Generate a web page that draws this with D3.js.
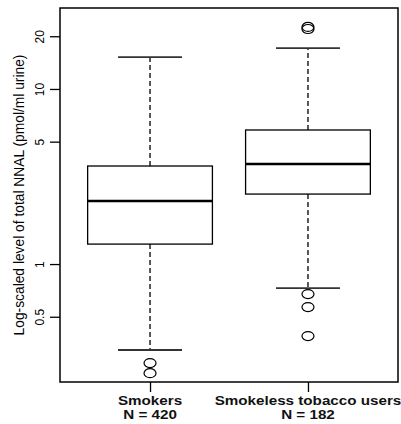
<!DOCTYPE html>
<html>
<head>
<meta charset="utf-8">
<script src="https://cdn.jsdelivr.net/npm/d3@7"></script>
<style>
  body { margin: 0; background: #fff; }
  svg { display: block; font-family: 'Liberation Sans', Arial, sans-serif; }
</style>
</head>
<body>
<div id="chartDiv1"></div>
<script>
// groups and their sample sizes
const groups = ['Smokers', 'Smokeless tobacco users']
const counts = [420, 182]

// box statistics (pmol/ml urine)
const whiskerLow = [0.323, 0.729]
const q1 = [1.30, 2.51]
const median = [2.29, 3.73]
const q3 = [3.63, 5.83]
const whiskerHigh = [15.2, 17.1]

// outliers per group
const outliers = [
  [0.272, 0.238],
  [22.0, 22.6, 0.674, 0.568, 0.388]
]

const yTicks = [0.5, 1, 5, 10, 20]

const width = 401
const height = 424
const margin = { top: 8, right: 3, bottom: 42, left: 60 }

const svg = d3.select('#chartDiv1').append('svg')
  .attr('width', width)
  .attr('height', height)

// x positions of the groups
const xScale = d3.scalePoint()
  .domain(groups)
  .range([margin.left, width - margin.right])
  .padding(0.57)

const step = xScale.step()
const boxW = step * 0.79
const capW = step * 0.405

// log y scale
const yScale = d3.scaleLog()
  .domain([0.212, 29.0])
  .range([height - margin.bottom, margin.top])

// y axis
const yAxis = d3.axisLeft(yScale)
  .tickValues(yTicks)
  .tickFormat(d => String(d))
  .tickSize(10)
  .tickSizeOuter(0)

const gy = svg.append('g')
  .attr('transform', `translate(${margin.left},0)`)
  .call(yAxis)
gy.select('.domain').remove()
gy.selectAll('line').attr('stroke', '#000').attr('stroke-width', 1.3)
gy.selectAll('text')
  .attr('x', 0)
  .attr('dy', 0)
  .attr('transform', 'translate(-16,0) rotate(-90)')
  .attr('text-anchor', 'middle')
  .attr('fill', '#000')
  .style('font-size', '12px')

// x axis
const xAxis = d3.axisBottom(xScale)
  .tickSize(10)
  .tickSizeOuter(0)
  .tickFormat('')

const gx = svg.append('g')
  .attr('transform', `translate(0,${height - margin.bottom})`)
  .call(xAxis)
gx.select('.domain').remove()
gx.selectAll('line').attr('stroke', '#000').attr('stroke-width', 1.3)

// two-line group labels (a bit stretched, like the reference)
groups.forEach((g, i) => {
  const t = svg.append('text')
    .attr('transform', `translate(${xScale(g)},${height - margin.bottom + 23}) scale(1.17,1)`)
    .attr('text-anchor', 'middle')
    .attr('font-weight', 'bold')
    .style('font-size', '13px')
    .attr('fill', '#111')
  t.append('tspan').attr('x', 0).text(g)
  t.append('tspan')
    .attr('x', 0)
    .attr('dy', 14)
    .text(`N = ${counts[i]}`)
})

// y axis title
svg.append('text')
  .attr('transform', `translate(24,${(margin.top + height - margin.bottom) / 2}) rotate(-90)`)
  .attr('text-anchor', 'middle')
  .style('font-size', '13.8px')
  .attr('fill', '#000')
  .text('Log-scaled level of total NNAL (pmol/ml urine)')

// boxes
const boxes = svg.selectAll('.box')
  .data(groups.map((g, i) => ({ g, i })))
  .enter()
  .append('g')
  .attr('class', 'box')

// dashed whiskers
boxes.append('line')
  .attr('x1', d => xScale(d.g))
  .attr('x2', d => xScale(d.g))
  .attr('y1', d => yScale(q3[d.i]))
  .attr('y2', d => yScale(whiskerHigh[d.i]))
  .attr('stroke', '#000')
  .attr('stroke-width', 1.3)
  .attr('stroke-dasharray', '5,3')
boxes.append('line')
  .attr('x1', d => xScale(d.g))
  .attr('x2', d => xScale(d.g))
  .attr('y1', d => yScale(q1[d.i]))
  .attr('y2', d => yScale(whiskerLow[d.i]))
  .attr('stroke', '#000')
  .attr('stroke-width', 1.3)
  .attr('stroke-dasharray', '5,3')

// whisker caps
const caps = [whiskerHigh, whiskerLow]
caps.forEach(arr => {
  boxes.append('line')
    .attr('x1', d => xScale(d.g) - capW / 2)
    .attr('x2', d => xScale(d.g) + capW / 2)
    .attr('y1', d => yScale(arr[d.i]))
    .attr('y2', d => yScale(arr[d.i]))
    .attr('stroke', '#333')
    .attr('stroke-width', 1.8)
})

// box body
boxes.append('rect')
  .attr('x', d => xScale(d.g) - boxW / 2)
  .attr('width', boxW)
  .attr('y', d => yScale(q3[d.i]))
  .attr('height', d => yScale(q1[d.i]) - yScale(q3[d.i]))
  .attr('fill', '#fff')
  .attr('stroke', '#000')
  .attr('stroke-width', 1.3)

// median
boxes.append('line')
  .attr('x1', d => xScale(d.g) - boxW / 2)
  .attr('x2', d => xScale(d.g) + boxW / 2)
  .attr('y1', d => yScale(median[d.i]))
  .attr('y2', d => yScale(median[d.i]))
  .attr('stroke', '#000')
  .attr('stroke-width', 2.6)

// outlier points
boxes.selectAll('ellipse')
  .data(d => outliers[d.i].map(v => ({ g: d.g, v })))
  .enter()
  .append('ellipse')
  .attr('cx', d => xScale(d.g))
  .attr('cy', d => yScale(d.v))
  .attr('rx', 6)
  .attr('ry', 4.5)
  .attr('fill', 'none')
  .attr('stroke', '#000')
  .attr('stroke-width', 1.2)

// plot frame
svg.append('rect')
  .attr('x', margin.left)
  .attr('y', margin.top)
  .attr('width', width - margin.right - margin.left)
  .attr('height', height - margin.bottom - margin.top)
  .attr('fill', 'none')
  .attr('stroke', '#000')
  .attr('stroke-width', 1.5)
</script>
</body>
</html>
